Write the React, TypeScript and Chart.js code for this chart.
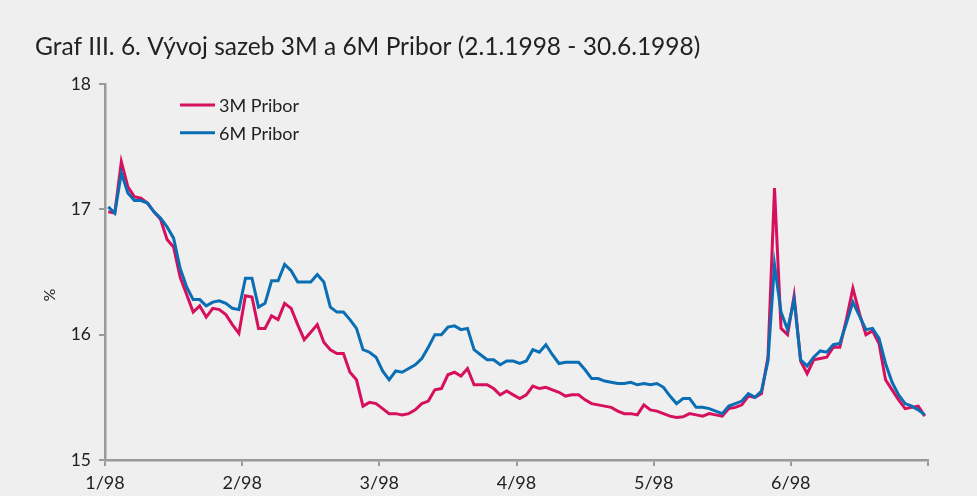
import React, { useEffect, useRef } from 'react';
import { Chart, registerables } from 'chart.js';

Chart.register(...registerables);

const titleText = 'Graf III. 6. Vývoj sazeb 3M a 6M Pribor (2.1.1998 - 30.6.1998)';
const seriesNames = ['3M Pribor', '6M Pribor'];
const monthLabels = ['1/98', '2/98', '3/98', '4/98', '5/98', '6/98', ''];
const daysPerTick = 21;
const yMin = 15;
const yMax = 18;
const yAxisLabel = '%';

const pribor3M = [
  16.98, 16.97, 17.38, 17.18, 17.10, 17.09, 17.05, 16.98, 16.92, 16.76,
  16.70, 16.46, 16.32, 16.18, 16.23, 16.14, 16.21, 16.20, 16.16, 16.08,
  16.01, 16.31, 16.30, 16.05, 16.05, 16.15, 16.12, 16.25, 16.21, 16.08,
  15.96, 16.02, 16.08, 15.94, 15.88, 15.85, 15.85, 15.70, 15.64, 15.43,
  15.46, 15.45, 15.41, 15.37, 15.37, 15.36, 15.37, 15.40, 15.45, 15.47,
  15.56, 15.57, 15.68, 15.70, 15.67, 15.73, 15.60, 15.60, 15.60, 15.57,
  15.52, 15.55, 15.52, 15.49, 15.52, 15.59, 15.57, 15.58, 15.56, 15.54,
  15.51, 15.52, 15.52, 15.48, 15.45, 15.44, 15.43, 15.42, 15.39, 15.37,
  15.37, 15.36, 15.44, 15.40, 15.39, 15.37, 15.35, 15.34, 15.345, 15.37,
  15.36, 15.35, 15.37, 15.36, 15.35, 15.41, 15.42, 15.44, 15.51, 15.50,
  15.53, 15.82, 17.17, 16.05, 16.00, 16.31, 15.79, 15.69, 15.80, 15.81,
  15.82, 15.90, 15.90, 16.12, 16.37, 16.17, 16.00, 16.03, 15.93, 15.64,
  15.56, 15.48, 15.41, 15.42, 15.43, 15.35,
];

const pribor6M = [
  17.02, 16.97, 17.29, 17.13, 17.07, 17.07, 17.05, 16.98, 16.93, 16.86,
  16.77, 16.53, 16.38, 16.28, 16.28, 16.23, 16.26, 16.27, 16.25, 16.21,
  16.20, 16.45, 16.45, 16.22, 16.25, 16.43, 16.43, 16.56, 16.51, 16.42,
  16.42, 16.42, 16.48, 16.42, 16.22, 16.18, 16.18, 16.12, 16.05, 15.88,
  15.86, 15.82, 15.71, 15.64, 15.71, 15.70, 15.73, 15.76, 15.81, 15.90,
  16.00, 16.00, 16.06, 16.07, 16.04, 16.05, 15.88, 15.84, 15.80, 15.80,
  15.76, 15.79, 15.79, 15.77, 15.79, 15.88, 15.86, 15.92, 15.84, 15.77,
  15.78, 15.78, 15.78, 15.72, 15.65, 15.65, 15.63, 15.62, 15.61, 15.61,
  15.62, 15.60, 15.61, 15.60, 15.61, 15.58, 15.51, 15.45, 15.49, 15.49,
  15.42, 15.42, 15.41, 15.39, 15.37, 15.43, 15.45, 15.47, 15.53, 15.50,
  15.55, 15.79, 16.56, 16.18, 16.04, 16.28, 15.80, 15.75, 15.82, 15.87,
  15.86, 15.92, 15.93, 16.09, 16.26, 16.15, 16.04, 16.05, 15.97, 15.77,
  15.62, 15.52, 15.45, 15.43, 15.40, 15.36,
];

const FONT = 'Lato, "Open Sans", "DejaVu Sans", sans-serif';
const RED = '#d6105c';
const BLUE = '#0a6eb4';
const AXIS = '#9a9a9a';
const TEXT = '#222222';

const overlayPlugin = {
  id: 'overlay',
  afterDraw(chart: any) {
    const ctx = chart.ctx;
    const a = chart.chartArea;
    ctx.save();
    const order = [0, 1];
    order.forEach((dsIndex, row) => {
      const ds = chart.data.datasets[dsIndex];
      const y = a.top + 21 + row * 27.7;
      ctx.strokeStyle = ds.borderColor;
      ctx.lineWidth = 3;
      ctx.beginPath();
      ctx.moveTo(a.left + 75, y);
      ctx.lineTo(a.left + 110, y);
      ctx.stroke();
      ctx.fillStyle = TEXT;
      ctx.font = `18px ${FONT}`;
      ctx.textBaseline = 'middle';
      ctx.textAlign = 'left';
      ctx.fillText(ds.label, a.left + 114, y + 1);
    });
    ctx.translate(50, 295);
    ctx.rotate(-Math.PI / 2);
    ctx.textAlign = 'center';
    ctx.textBaseline = 'middle';
    ctx.font = `16px ${FONT}`;
    ctx.fillStyle = TEXT;
    ctx.fillText(yAxisLabel, 0, 0);
    ctx.restore();
  },
};

export default function App() {
  const canvasRef = useRef<HTMLCanvasElement | null>(null);

  useEffect(() => {
    const canvas = canvasRef.current;
    if (!canvas) return;
    const n = pribor3M.length;
    const tickCount = monthLabels.length;
    const chart = new Chart(canvas, {
      type: 'line',
      data: {
        datasets: [
          {
            label: seriesNames[0],
            data: pribor3M.map((v, i) => ({ x: i, y: v })),
            borderColor: RED,
            backgroundColor: RED,
            borderWidth: 3,
            pointRadius: 0,
            tension: 0,
            order: 1,
          },
          {
            label: seriesNames[1],
            data: pribor6M.map((v, i) => ({ x: i, y: v })),
            borderColor: BLUE,
            backgroundColor: BLUE,
            borderWidth: 3,
            pointRadius: 0,
            tension: 0,
            order: 0,
          },
        ],
      },
      options: {
        responsive: false,
        animation: false,
        events: [],
        layout: { padding: { left: 35, right: 49, top: 0, bottom: 0 } },
        plugins: {
          legend: { display: false },
          tooltip: { enabled: false },
          title: {
            display: true,
            text: titleText,
            align: 'start',
            color: TEXT,
            font: { family: FONT, size: 24.5, weight: 'normal' },
            padding: { top: 32, bottom: 22.6 },
          },
        },
        scales: {
          x: {
            type: 'linear',
            min: -0.5,
            max: n - 0.5,
            afterBuildTicks: (scale: any) => {
              scale.ticks = monthLabels.map((_, k) => ({ value: -0.5 + k * daysPerTick }));
            },
            afterFit: (scale: any) => {
              scale.height = 36;
            },
            grid: {
              drawOnChartArea: false,
              drawTicks: true,
              tickLength: 6,
              color: AXIS,
              lineWidth: 2,
            },
            border: { display: true, color: AXIS, width: 2.5 },
            ticks: {
              autoSkip: false,
              maxRotation: 0,
              padding: 6,
              color: TEXT,
              font: { family: FONT, size: 18 },
              callback: (_v: any, idx: number) => (idx < tickCount ? monthLabels[idx] : ''),
            },
          },
          y: {
            min: yMin,
            max: yMax,
            afterFit: (scale: any) => {
              scale.width = 70;
            },
            grid: {
              drawOnChartArea: false,
              drawTicks: true,
              tickLength: 6,
              color: AXIS,
              lineWidth: 2,
            },
            border: { display: true, color: AXIS, width: 2.5 },
            ticks: {
              stepSize: 1,
              padding: 8,
              color: TEXT,
              font: { family: FONT, size: 17.5 },
            },
          },
        },
      },
      plugins: [overlayPlugin],
    } as any);
    return () => chart.destroy();
  }, []);

  return (
    <div
      style={{
        position: 'absolute',
        left: 0,
        top: 0,
        width: 977,
        height: 496,
        background: '#efefef',
      }}
    >
      <canvas ref={canvasRef} width={977} height={496} />
    </div>
  );
}
